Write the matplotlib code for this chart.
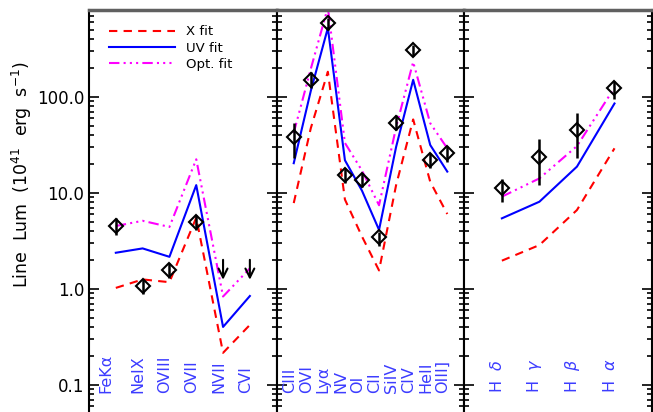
import numpy as np
import matplotlib
matplotlib.use("Agg")
import matplotlib.pyplot as plt
from matplotlib import transforms
from matplotlib.ticker import LogLocator, FixedLocator, FixedFormatter, NullFormatter

# panel 1: X-ray lines
p1_labels = ["FeKα", "NeIX", "OVIII", "OVII", "NVII", "CVI"]
p1_obs = [4.5, 1.07, 1.57, 4.9, np.nan, np.nan]
p1_lo = [3.6, 0.88, 1.29, 4.1, np.nan, np.nan]
p1_hi = [5.4, 1.26, 1.85, 5.8, np.nan, np.nan]
p1_ulim = [np.nan, np.nan, np.nan, np.nan, 2.0, 2.0]
p1_xfit = [1.02, 1.25, 1.17, 5.5, 0.215, 0.42]
p1_uvfit = [2.37, 2.63, 2.15, 12.0, 0.40, 0.84]
p1_optfit = [4.5, 5.1, 4.4, 22.3, 0.83, 1.63]

# panel 2: UV lines
p2_labels = ["CIII", "OVI", "Lyα", "NV", "OI", "CII", "SiIV", "CIV", "HeII", "OIII]"]
p2_obs = [38, 149, 580, 15.3, 13.6, 3.43, 53.6, 306, 21.9, 26.1]
p2_lo = [22.8, 122, 500, 12.5, 11.6, 2.78, 45, 265, 17.9, 21]
p2_hi = [52.7, 182, 660, 17.9, 16, 3.9, 64, 345, 25.7, 30.6]
p2_ulim = [np.nan] * 10
p2_xfit = [7.8, 47, 182, 8.5, 3.5, 1.55, 12, 58, 13, 6.0]
p2_uvfit = [20.3, 115, 520, 21.8, 10.5, 4.1, 30, 150, 31.4, 16.6]
p2_optfit = [42, 195, 850, 33, 17, 7.4, 48, 230, 53, 29]

# panel 3: Balmer lines
p3_labels = ["H  $\\delta$", "H  $\\gamma$", "H  $\\beta$", "H  $\\alpha$"]
p3_obs = [11.1, 23.7, 45, 122]
p3_lo = [8.1, 12.0, 22.8, 94]
p3_hi = [13.9, 36, 67, 147]
p3_ulim = [np.nan] * 4
p3_xfit = [1.96, 2.85, 6.6, 29]
p3_uvfit = [5.41, 8.06, 18.7, 85]
p3_optfit = [9.1, 14.1, 30.6, 124]

panels = [
    (p1_labels, p1_obs, p1_lo, p1_hi, p1_ulim, p1_xfit, p1_uvfit, p1_optfit),
    (p2_labels, p2_obs, p2_lo, p2_hi, p2_ulim, p2_xfit, p2_uvfit, p2_optfit),
    (p3_labels, p3_obs, p3_lo, p3_hi, p3_ulim, p3_xfit, p3_uvfit, p3_optfit),
]

yticks = [0.1, 1.0, 10.0, 100.0]
ytick_labels = ["0.1", "1.0", "10.0", "100.0"]

plt.rcParams["font.family"] = ["DejaVu Sans"]
label_color = "#3c3cff"
opt_dash = (0, (5, 2, 1, 2, 1, 2, 1, 2))

fig, axes = plt.subplots(1, 3, sharey=True, figsize=(6.53, 4.12), dpi=100)
fig.subplots_adjust(left=0.1363, right=0.9985, top=0.9757, bottom=0.0, wspace=0)
for ax in axes:
    ax.set_yscale("log")

for i, (ax, (labels, obs, lo, hi, ulim, xfit, uvfit, optfit)) in enumerate(zip(axes, panels)):
    n = len(labels)
    x = np.arange(1, n + 1)
    ax.plot(x, xfit, color="red", lw=1.5, dashes=(4, 3), label="X fit")
    ax.plot(x, uvfit, color="blue", lw=1.5, label="UV fit")
    ax.plot(x, optfit, color="magenta", lw=1.5, linestyle=opt_dash, label="Opt. fit")

    obs = np.array(obs, float)
    lo = np.array(lo, float)
    hi = np.array(hi, float)
    ax.vlines(x, lo, hi, color="black", lw=1.8, zorder=4)
    ax.plot(x, obs, "D", ms=7.5, mfc="none", mec="black", mew=1.5, zorder=5)

    for xi, u in zip(x, ulim):
        if np.isfinite(u):
            ax.annotate("", xy=(xi, u * 0.62), xytext=(xi, u),
                        arrowprops=dict(arrowstyle="->", color="black", lw=1.5,
                                        mutation_scale=16, shrinkA=0, shrinkB=0))

    trans = transforms.offset_copy(ax.get_xaxis_transform(), fig=fig, x=-4.5, y=0, units="dots")
    for xi, lab in zip(x, labels):
        dx = -0.22 if lab.startswith("FeK") else 0
        ax.text(xi + dx, 0.047, lab, transform=trans, rotation=90, ha="center",
                va="bottom", color=label_color, fontsize=11.5)

    ax.set_xlim(0, n + 1)
    ax.set_xticks([])
    ax.spines["bottom"].set_visible(False)
    for side in ["left", "right"]:
        ax.spines[side].set_linewidth(1.5)
    ax.spines["top"].set_linewidth(2.5)
    ax.spines["top"].set_color("#606060")
    ax.tick_params(axis="y", which="both", direction="in", left=True, right=True,
                   width=1.2, labelsize=12)
    ax.tick_params(axis="y", which="major", length=7)
    ax.tick_params(axis="y", which="minor", length=3.5)
    if i == 0:
        ax.legend(loc="upper left", bbox_to_anchor=(0.08, 0.975), borderaxespad=0,
                  frameon=False, fontsize=9.5, handlelength=5.0, handletextpad=0.8,
                  labelspacing=0.25)
    else:
        ax.tick_params(axis="y", labelleft=False)

# shared y axis: set ticks once, after the scale is fixed
ax0 = axes[0]
ax0.set_ylim(0.052, 800)
ax0.yaxis.set_major_locator(FixedLocator(yticks))
ax0.yaxis.set_major_formatter(FixedFormatter(ytick_labels))
ax0.yaxis.set_minor_locator(LogLocator(base=10, subs=np.arange(2, 10)))
ax0.yaxis.set_minor_formatter(NullFormatter())

fig.text(22 / 653, 1 - 175 / 412, "Line  Lum  (10$^{41}$  erg  s$^{-1}$)", rotation=90,
         ha="center", va="center", fontsize=12.5)

fig.savefig("out.png", dpi=100)
